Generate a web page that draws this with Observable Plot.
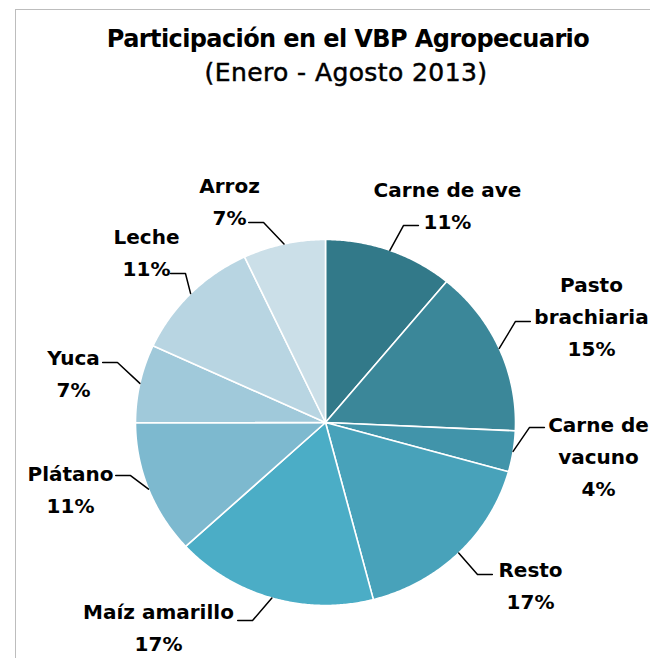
<!DOCTYPE html>
<html>
<head>
<meta charset="utf-8">
<script src="https://cdn.jsdelivr.net/npm/d3@7"></script>
<script src="https://cdn.jsdelivr.net/npm/@observablehq/plot@0.6"></script>
<style>
  html, body { margin: 0; padding: 0; background: #fff; overflow: hidden; }
  #wrap { position: relative; width: 650px; height: 658px; }
  #frame { position: absolute; left: 15px; top: 9px; width: 640px; height: 655px;
           border-top: 1px solid #bdbdbd; border-left: 1px solid #bdbdbd; }
  .tline { position: absolute; width: 650px; text-align: center; white-space: nowrap;
           font-family: "DejaVu Sans", sans-serif; color: #000; }
  #t1 { left: 23px; top: 24px; font-size: 24px; line-height: 30px; font-weight: bold; letter-spacing: -0.6px; }
  #t2 { left: 21px; top: 58px; font-size: 25px; line-height: 30px; font-weight: normal; letter-spacing: 0.4px; -webkit-text-stroke: 0.5px #000; }
  #chart { position: absolute; left: 0; top: 0; }
</style>
</head>
<body>
<div id="wrap">
  <div id="frame"></div>
  <div id="chart"></div>
  <div class="tline" id="t1">Participación en el VBP Agropecuario</div>
  <div class="tline" id="t2">(Enero - Agosto 2013)</div>
</div>
<script>
// ---- data ----
const categories = ["Carne de ave", "Pasto brachiaria", "Carne de vacuno", "Resto", "Maíz amarillo", "Plátano", "Yuca", "Leche", "Arroz"];
const shares = [11.0, 14.7, 3.6, 16.6, 17.2, 11.8, 6.9, 11.1, 7.0];
const percentLabels = ["11%", "15%", "4%", "17%", "17%", "11%", "7%", "11%", "7%"];
const labelNames = ["Carne de ave", "Pasto\nbrachiaria", "Carne de\nvacuno", "Resto", "Maíz amarillo", "Plátano", "Yuca", "Leche", "Arroz"];
const sliceColors = ["#327989", "#3b8799", "#4194aa", "#48a2ba", "#4badc6", "#7db9cf", "#a0c9da", "#b8d5e2", "#cbdfe8"];

// ---- layout (pie units: radius = 1, y up) ----
const labelCenter = [[0.642, 1.202], [1.400, 0.596], [1.437, -0.169], [1.079, -0.874], [-0.879, -1.105], [-1.342, -0.350], [-1.326, 0.284], [-0.942, 0.945], [-0.505, 1.224]];
const leaderElbow = [[0.411, 1.077], [1.0, 0.552], [1.074, -0.027], [0.80, -0.831], [-0.384, -1.082], [-1.026, -0.290], [-1.095, 0.328], [-0.737, 0.814], [-0.326, 1.093]];
const leaderRun = 0.078;

// ---- build geometry from data ----
const total = d3.sum(shares);
let acc = 0;
const slices = categories.map((name, i) => {
  const a0 = acc / total * 2 * Math.PI;
  acc += shares[i];
  const a1 = acc / total * 2 * Math.PI;
  return {name, i, a0, a1, mid: (a0 + a1) / 2};
});

const slicePts = [];
for (const s of slices) {
  slicePts.push({name: s.name, x: 0, y: 0});
  const n = Math.max(2, Math.ceil((s.a1 - s.a0) / (Math.PI / 360)));
  for (let k = 0; k <= n; k++) {
    const a = s.a0 + (s.a1 - s.a0) * k / n;
    slicePts.push({name: s.name, x: Math.sin(a), y: Math.cos(a)});
  }
}

const leaderPts = [];
for (const s of slices) {
  const side = s.i < 4 ? 1 : -1;
  const [ex, ey] = leaderElbow[s.i];
  leaderPts.push({name: s.name, x: Math.sin(s.mid), y: Math.cos(s.mid)});
  leaderPts.push({name: s.name, x: ex, y: ey});
  leaderPts.push({name: s.name, x: ex + side * leaderRun, y: ey});
}

const labels = slices.map(s => ({
  name: s.name,
  x: labelCenter[s.i][0],
  y: labelCenter[s.i][1],
  text: labelNames[s.i] + "\n" + percentLabels[s.i]
}));

const cx = 325, cy = 422, rx = 190, ry = 183;

const chart = Plot.plot({
  width: 650,
  height: 658,
  margin: 0,
  x: {domain: [-1, 1], range: [cx - rx, cx + rx], axis: null},
  y: {domain: [-1, 1], range: [cy + ry, cy - ry], axis: null},
  color: {domain: categories, range: sliceColors},
  style: {background: "transparent", overflow: "visible"},
  marks: [
    Plot.line(slicePts, {x: "x", y: "y", z: "name", fill: "name", stroke: "white", strokeWidth: 1.6, curve: "linear-closed"}),
    Plot.line(leaderPts, {x: "x", y: "y", z: "name", stroke: "black", strokeWidth: 1.5}),
    Plot.text(labels, {x: "x", y: "y", text: "text", fontSize: 20, fontWeight: "bold", fontFamily: "DejaVu Sans", lineHeight: 1.6, textAnchor: "middle", fill: "black"})
  ]
});
document.getElementById("chart").appendChild(chart);
</script>
</body>
</html>
